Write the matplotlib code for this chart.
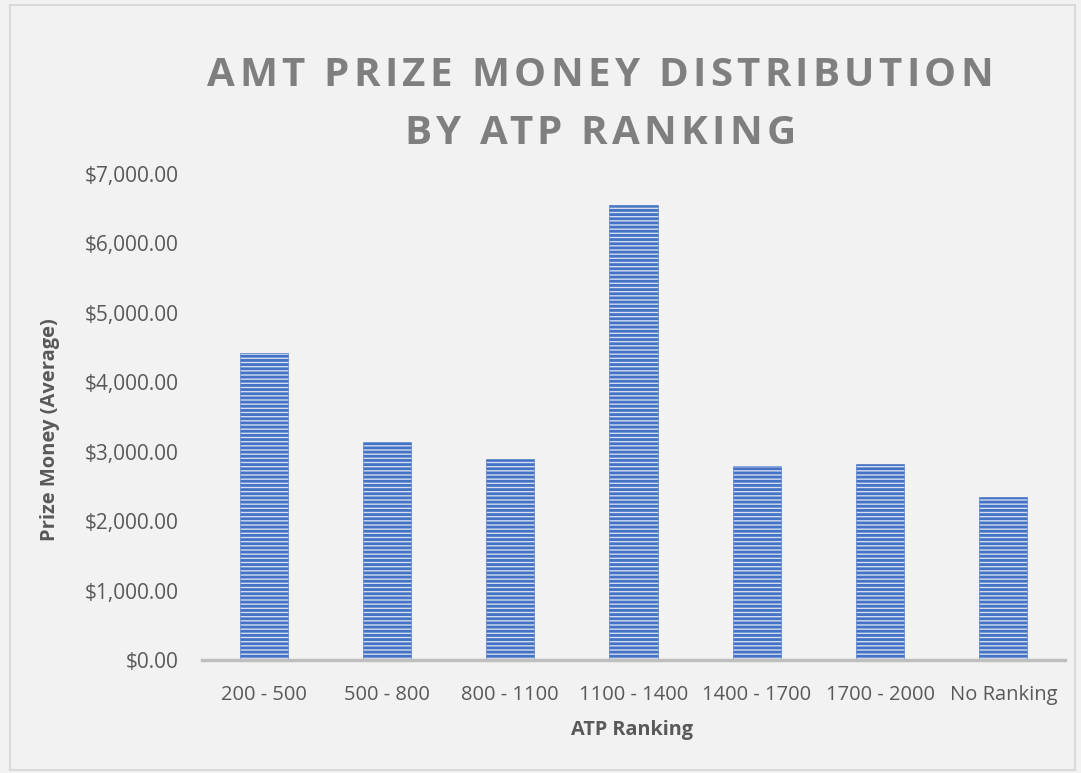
import matplotlib.pyplot as plt
from matplotlib.patches import Rectangle
from matplotlib.ticker import FuncFormatter

# datos
rankings = ['200 - 500', '500 - 800', '800 - 1100', '1100 - 1400',
            '1400 - 1700', '1700 - 2000', 'No Ranking']
prize_avg = [4420, 3140, 2900, 6550, 2795, 2825, 2345]
title_lines = ['AMT PRIZE MONEY DISTRIBUTION', 'BY ATP RANKING']

plt.rcParams['font.family'] = ['Open Sans', 'DejaVu Sans']
plt.rcParams['hatch.linewidth'] = 2.0

W, H = 1081, 773
bg = '#f2f2f2'
fig = plt.figure(figsize=(W / 100, H / 100), dpi=100, facecolor=bg)
ax = fig.add_axes([202 / W, 1 - 660 / H, (1065 - 202) / W, (660 - 174) / H])
ax.set_facecolor(bg)

# borde exterior
fig.patches.append(Rectangle((10 / W, 3 / H), 1065 / W, 765 / H,
                             transform=fig.transFigure, fill=False,
                             edgecolor='#d9d9d9', linewidth=1.5))

# barras rayadas (el color de la trama sigue al del borde)
x = range(len(rankings))
ax.bar(x, prize_avg, width=0.39, color='#d3ddf0', edgecolor='#4472c4',
       hatch='----', linewidth=0.4, zorder=2)

ax.set_xlim(-0.5, len(rankings) - 0.5)
ax.set_ylim(0, 7000)
ax.set_yticks(range(0, 7001, 1000))
ax.yaxis.set_major_formatter(FuncFormatter(lambda v, p: f'${v:,.2f}'))

for s in ['top', 'right', 'left']:
    ax.spines[s].set_visible(False)
ax.spines['bottom'].set_color('#bfbfbf')
ax.spines['bottom'].set_linewidth(2.5)
ax.tick_params(axis='both', length=0, labelcolor='#595959')
ax.tick_params(axis='x', pad=18, labelsize=14.5)
ax.tick_params(axis='y', pad=17, labelsize=15)
ax.set_xticks(list(x))
ax.set_xticklabels(rankings)

ax.set_xlabel('ATP Ranking', fontsize=14.3, fontweight='bold', color='#595959', va='top')
ax.xaxis.set_label_coords(0.498, (660 - 720) / 486)
ax.set_ylabel('Prize Money (Average)', fontsize=14.5, fontweight='bold', color='#595959')
ax.yaxis.set_label_coords((60 - 202) / 863, (660 - 430) / 486)

# título con espaciado entre letras (como en Excel)
renderer = fig.canvas.get_renderer()
spacing = 4.3 / W
for line, yc in zip(title_lines, [76, 134]):
    def width(s):
        t = fig.text(0, 0, s, fontsize=29, fontweight='bold')
        w = t.get_window_extent(renderer).width / W
        t.remove()
        return w
    total = width(line) + spacing * (len(line) - 1)
    x0 = 600 / W - total / 2
    for i, ch in enumerate(line):
        if ch == ' ':
            continue
        xr = x0 + width(line[:i + 1]) + i * spacing
        fig.text(xr, 1 - yc / H, ch, ha='right', va='center', fontsize=29,
                 fontweight='bold', color='#7f7f7f')

fig.savefig('out.png', dpi=100, facecolor=bg)
